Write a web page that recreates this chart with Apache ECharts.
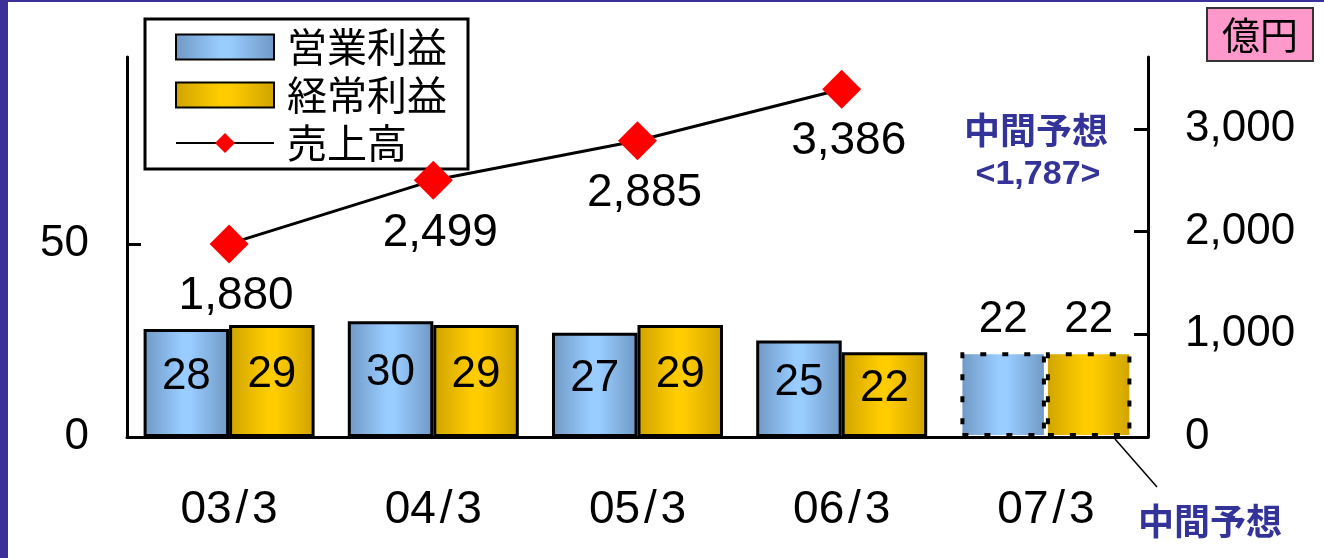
<!DOCTYPE html>
<html>
<head>
<meta charset="utf-8">
<script src="https://cdn.jsdelivr.net/npm/echarts@6/dist/echarts.min.js"></script>
<style>
  html, body { margin: 0; padding: 0; background: #ffffff; }
  #chart { width: 1324px; height: 558px; }
</style>
</head>
<body>
<div id="chart"></div>
<script>
// Fiscal periods (year/month of fiscal year end)
const categories = ['03/3', '04/3', '05/3', '06/3', '07/3'];
// 営業利益 (operating profit), 億円
const operatingProfit = [28, 30, 27, 25, 22];
// 経常利益 (ordinary profit), 億円
const ordinaryProfit = [29, 29, 29, 22, 22];
// 売上高 (net sales), 億円 — no full-year figure for 07/3
const netSales = [1880, 2499, 2885, 3386];
// Interim forecast for 07/3 sales
const interimSalesForecast = 1787;
// Index of the forecast period (drawn with dashed outline)
const forecastIndex = 4;
// Axis tick values
const leftTicks = [0, 50];
const rightTicks = [0, 1000, 2000, 3000];

const NUM_FONT = '"Liberation Sans", Arial, sans-serif';
const CJK_FONT = '"Noto Sans CJK JP", "Noto Sans", sans-serif';
const fmt = v => Number(v).toLocaleString('en-US');

function hGrad(edge, mid) {
  return new echarts.graphic.LinearGradient(0, 0, 1, 0, [
    { offset: 0, color: edge },
    { offset: 0.45, color: mid },
    { offset: 0.55, color: mid },
    { offset: 1, color: edge }
  ]);
}
const blueFill = hGrad('#6f98c4', '#99ccff');
const goldFill = hGrad('#cfa300', '#ffcc00');

function barData(values) {
  return values.map((v, i) => {
    if (i !== forecastIndex) return v;
    return {
      value: v,
      itemStyle: { borderType: [6, 16], borderWidth: 4 },
      label: { position: 'top', distance: 10, offset: [0, 0] }
    };
  });
}

const barLabel = {
  show: true,
  position: 'inside',
  offset: [0, -6],
  color: '#000',
  fontFamily: NUM_FONT,
  fontSize: 44
};

const chart = echarts.init(document.getElementById('chart'));
chart.setOption({
  backgroundColor: '#ffffff',
  animation: false,
  grid: { left: 127, right: 176, top: 57, bottom: 121, containLabel: false },
  legend: {
    orient: 'vertical',
    left: 145,
    top: 19,
    padding: [8, 21, 6, 30],
    itemGap: 8,
    itemWidth: 98,
    itemHeight: 25,
    backgroundColor: '#ffffff',
    borderColor: '#000',
    borderWidth: 3,
    textStyle: { fontFamily: CJK_FONT, fontSize: 40, color: '#000', padding: [0, 0, 0, 8] },
    data: [
      { name: '営業利益', icon: 'rect' },
      { name: '経常利益', icon: 'rect' },
      { name: '売上高' }
    ]
  },
  xAxis: {
    type: 'category',
    data: categories,
    boundaryGap: true,
    axisLine: { lineStyle: { color: '#000', width: 3 } },
    axisTick: { inside: true, length: 12, lineStyle: { color: '#000', width: 3 } },
    axisLabel: {
      color: '#000', fontFamily: NUM_FONT, fontSize: 46, margin: 50,
      formatter: v => v.replace('/', '\u200a/\u200a')
    },
    splitLine: { show: false }
  },
  yAxis: [
    {
      type: 'value',
      min: 0,
      max: 98.5,
      interval: 50,
      position: 'left',
      axisLine: { show: true, lineStyle: { color: '#000', width: 3 } },
      axisTick: { show: true, inside: true, length: 14, customValues: leftTicks, lineStyle: { color: '#000', width: 3 } },
      axisLabel: { color: '#000', fontFamily: NUM_FONT, fontSize: 44, margin: 38, customValues: leftTicks, padding: [10, 0, 0, 0] },
      splitLine: { show: false }
    },
    {
      type: 'value',
      min: 0,
      max: 3700,
      interval: 1000,
      position: 'right',
      axisLine: { show: true, lineStyle: { color: '#000', width: 3 } },
      axisTick: { show: true, inside: true, length: 14, customValues: rightTicks, lineStyle: { color: '#000', width: 3 } },
      axisLabel: { color: '#000', fontFamily: NUM_FONT, fontSize: 44, margin: 37, customValues: rightTicks, formatter: fmt, padding: [10, 0, 0, 0] },
      splitLine: { show: false }
    }
  ],
  series: [
    {
      name: '営業利益',
      type: 'bar',
      yAxisIndex: 0,
      barWidth: 85.5,
      barGap: '0%',
      data: barData(operatingProfit),
      itemStyle: { color: blueFill, borderColor: '#000', borderWidth: 3 },
      label: barLabel
    },
    {
      name: '経常利益',
      type: 'bar',
      yAxisIndex: 0,
      barWidth: 85.5,
      barGap: '0%',
      data: barData(ordinaryProfit),
      itemStyle: { color: goldFill, borderColor: '#000', borderWidth: 3 },
      label: barLabel
    },
    {
      name: '売上高',
      type: 'line',
      yAxisIndex: 1,
      data: netSales,
      symbol: 'diamond',
      symbolSize: 39,
      z: 5,
      lineStyle: { color: '#000', width: 3 },
      itemStyle: { color: '#ff0000' },
      label: {
        show: true,
        position: 'bottom',
        distance: 10,
        offset: [7, 0],
        color: '#000',
        fontFamily: NUM_FONT,
        fontSize: 46,
        formatter: p => fmt(p.value)
      }
    }
  ],
  graphic: [
    // frame accents
    { type: 'rect', shape: { x: 0, y: 0, width: 8, height: 558 }, style: { fill: '#3b3099' }, silent: true },
    { type: 'rect', shape: { x: 0, y: 0, width: 1324, height: 2 }, style: { fill: '#3b3099' }, silent: true },
    // unit box
    { type: 'rect', shape: { x: 1207, y: 8, width: 106, height: 53 }, style: { fill: '#ff99cc', stroke: '#333', lineWidth: 2 } },
    { type: 'text', x: 1260, y: 35,
      style: { text: '億円', fontFamily: CJK_FONT, fontSize: 38, fill: '#000', align: 'center', verticalAlign: 'middle' } },
    // interim sales forecast note
    { type: 'text', x: 1036, y: 130,
      style: { text: '中間予想', fontFamily: CJK_FONT, fontWeight: 'bold', fontSize: 36, fill: '#333399', align: 'center', verticalAlign: 'middle' } },
    { type: 'text', x: 1038, y: 175,
      style: { text: '<' + fmt(interimSalesForecast) + '>', fontFamily: NUM_FONT, fontWeight: 'bold', fontSize: 34, fill: '#333399', align: 'center', verticalAlign: 'middle' } },
    // callout for the forecast bars
    { type: 'line', shape: { x1: 1115, y1: 439, x2: 1157, y2: 487 }, style: { stroke: '#000', lineWidth: 1.5 } },
    { type: 'text', x: 1210, y: 521,
      style: { text: '中間予想', fontFamily: CJK_FONT, fontWeight: 'bold', fontSize: 36, fill: '#333399', align: 'center', verticalAlign: 'middle' } }
  ]
});
</script>
</body>
</html>
